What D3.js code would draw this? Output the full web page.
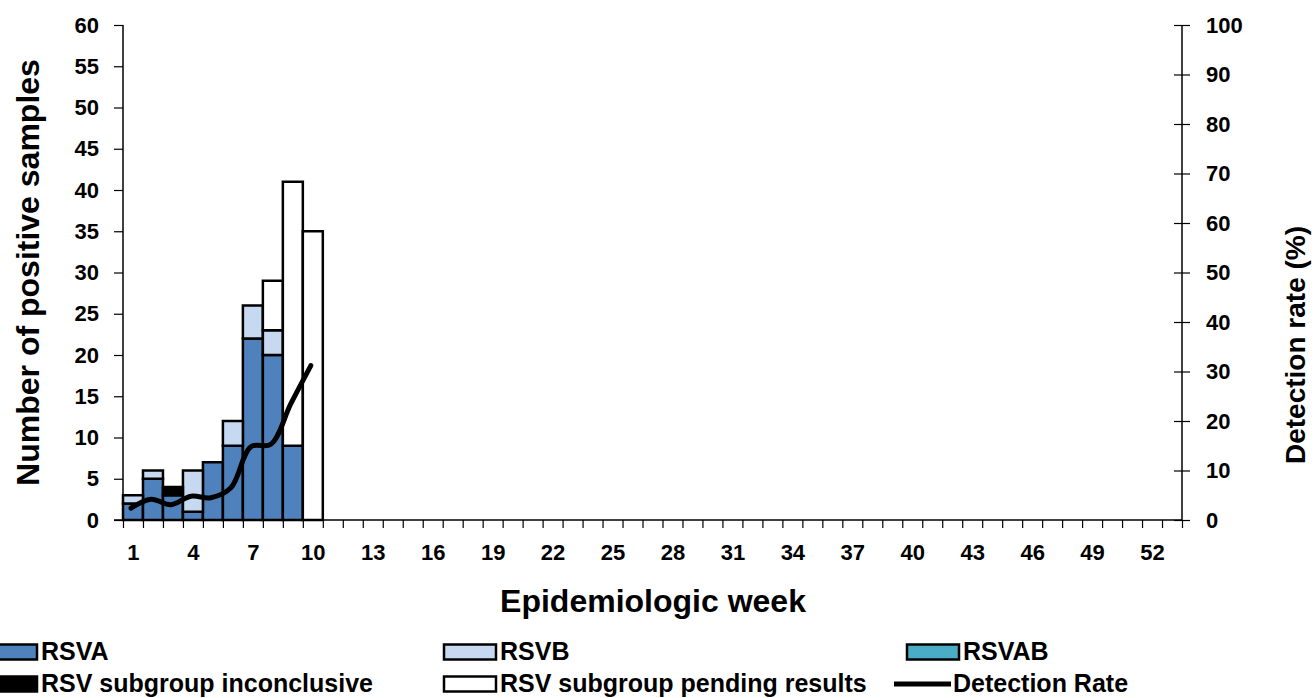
<!DOCTYPE html>
<html>
<head>
<meta charset="utf-8">
<script src="https://cdn.jsdelivr.net/npm/d3@7"></script>
<style>
  body { margin: 0; background: #fff; }
  svg text { font-family: "Liberation Sans", Arial, sans-serif; font-weight: bold; fill: #000; }
</style>
</head>
<body>
<svg id="chart"></svg>
<script>
// Data
const weeks = d3.range(1, 54);
const barWeeks = [1, 2, 3, 4, 5, 6, 7, 8, 9, 10];
const rsvA = [2, 5, 3, 1, 7, 9, 22, 20, 9, 0];
const rsvB = [1, 1, 0, 5, 0, 3, 4, 3, 0, 0];
const rsvAB = [0, 0, 0, 0, 0, 0, 0, 0, 0, 0];
const inconclusive = [0, 0, 1, 0, 0, 0, 0, 0, 0, 0];
const pending = [0, 0, 0, 0, 0, 0, 0, 6, 32, 35];
const detectionRate = [2.4, 4.2, 3.1, 4.8, 4.5, 6.5, 14.8, 15.3, 23.5, 31.2];
const leftTicks = d3.range(0, 61, 5);
const rightTicks = d3.range(0, 101, 10);
const weekLabels = d3.range(1, 53, 3);

const width = 1315, height = 698;
const margin = { top: 25, right: 133, bottom: 178, left: 123 };

const svg = d3.select('#chart')
  .attr('width', width)
  .attr('height', height);

const x = d3.scaleLinear()
  .domain([0.5, weeks.length + 0.5])
  .range([margin.left, width - margin.right]);

const y = d3.scaleLinear()
  .domain([0, 60])
  .range([height - margin.bottom, margin.top]);

const y2 = d3.scaleLinear()
  .domain([0, 100])
  .range([height - margin.bottom, margin.top]);

const series = [
  { key: 'RSVA', values: rsvA, color: '#4F81BD' },
  { key: 'RSVB', values: rsvB, color: '#C6D9F1' },
  { key: 'RSVAB', values: rsvAB, color: '#4BACC6' },
  { key: 'RSV subgroup inconclusive', values: inconclusive, color: '#000000' },
  { key: 'RSV subgroup pending results', values: pending, color: '#FFFFFF' }
];

// Build stack table
const table = barWeeks.map((w, i) => {
  const row = { week: w };
  series.forEach(s => { row[s.key] = s.values[i]; });
  return row;
});
const stacked = d3.stack().keys(series.map(s => s.key))(table);

// Bars
stacked.forEach((layer, li) => {
  svg.append('g')
    .selectAll('rect')
    .data(layer.filter(d => d[1] - d[0] > 0))
    .join('rect')
    .attr('x', d => x(d.data.week - 0.5))
    .attr('width', d => x(d.data.week + 0.5) - x(d.data.week - 0.5))
    .attr('y', d => y(d[1]))
    .attr('height', d => y(d[0]) - y(d[1]))
    .attr('fill', series[li].color)
    .attr('stroke', '#000')
    .attr('stroke-width', 2.5);
});

// X axis: ticks at week boundaries, labels every 3 weeks
const xAxis = svg.append('g')
  .attr('transform', `translate(0,${y(0)})`)
  .call(d3.axisBottom(x)
    .tickValues(d3.range(0.5, weeks.length + 1, 1))
    .tickSize(8)
    .tickFormat(''));
xAxis.select('.domain').remove();
xAxis.selectAll('line').attr('stroke', '#000').attr('stroke-width', 1.2);

svg.append('line')
  .attr('x1', margin.left - 9)
  .attr('x2', x(weeks.length + 0.5))
  .attr('y1', y(0))
  .attr('y2', y(0))
  .attr('stroke', '#000')
  .attr('stroke-width', 1.5);

svg.append('g')
  .attr('transform', `translate(0,${y(0)})`)
  .call(d3.axisBottom(x).tickValues(weekLabels).tickSize(0).tickPadding(24))
  .call(g => g.select('.domain').remove())
  .selectAll('text')
  .style('font-size', '22px');

// Left axis
const leftAxis = svg.append('g')
  .attr('transform', `translate(${margin.left},0)`)
  .call(d3.axisLeft(y).tickValues(leftTicks).tickSize(9).tickPadding(15));
leftAxis.select('.domain').attr('stroke', '#000').attr('stroke-width', 1.5)
  .attr('d', `M0,${y(0)}V${y(60)}`);
leftAxis.selectAll('line').attr('stroke', '#000').attr('stroke-width', 1.2);
leftAxis.selectAll('text').style('font-size', '22px');

// Right axis (ticks cross the line)
const rightAxis = svg.append('g')
  .attr('transform', `translate(${x(weeks.length + 0.5)},0)`)
  .call(d3.axisRight(y2).tickValues(rightTicks).tickSize(8).tickPadding(16));
rightAxis.select('.domain').attr('stroke', '#000').attr('stroke-width', 1.5)
  .attr('d', `M0,${y2(0)}V${y2(100)}`);
rightAxis.selectAll('line').attr('x1', -8).attr('stroke', '#000').attr('stroke-width', 1.2);
rightAxis.selectAll('text').style('font-size', '22px');

// Detection rate line
const line = d3.line()
  .x((d, i) => x(barWeeks[i]) - 2)
  .y(d => y2(d))
  .curve(d3.curveCatmullRom.alpha(0.5));

svg.append('path')
  .datum(detectionRate)
  .attr('d', line)
  .attr('fill', 'none')
  .attr('stroke', '#000')
  .attr('stroke-width', 5)
  .attr('stroke-linecap', 'round');

// Axis titles
svg.append('text')
  .attr('transform', `translate(39,${(y(0) + y(60)) / 2}) rotate(-90)`)
  .attr('text-anchor', 'middle')
  .style('font-size', '32px')
  .text('Number of positive samples');

svg.append('text')
  .attr('transform', `translate(1305,345) rotate(-90)`)
  .attr('text-anchor', 'middle')
  .style('font-size', '28px')
  .text('Detection rate (%)');

svg.append('text')
  .attr('x', 653)
  .attr('y', 612)
  .attr('text-anchor', 'middle')
  .style('font-size', '32px')
  .text('Epidemiologic week');

// Legend
const legendItems = [
  { label: 'RSVA', color: '#4F81BD', type: 'rect', x: -15, row: 0 },
  { label: 'RSVB', color: '#C6D9F1', type: 'rect', x: 444, row: 0 },
  { label: 'RSVAB', color: '#4BACC6', type: 'rect', x: 907, row: 0 },
  { label: 'RSV subgroup inconclusive', color: '#000000', type: 'rect', x: -15, row: 1 },
  { label: 'RSV subgroup pending results', color: '#FFFFFF', type: 'rect', x: 444, row: 1 },
  { label: 'Detection Rate', color: '#000000', type: 'line', x: 894, row: 1 }
];
const rowY = [652, 684];

const legend = svg.append('g');
legendItems.forEach(item => {
  const g = legend.append('g')
    .attr('transform', `translate(${item.x},${rowY[item.row]})`);
  if (item.type === 'rect') {
    g.append('rect')
      .attr('x', 0)
      .attr('y', -7.5)
      .attr('width', 52)
      .attr('height', 15)
      .attr('fill', item.color)
      .attr('stroke', '#000')
      .attr('stroke-width', 2.5);
  } else {
    g.append('line')
      .attr('x1', 0)
      .attr('x2', 57)
      .attr('y1', 0)
      .attr('y2', 0)
      .attr('stroke', '#000')
      .attr('stroke-width', 5);
  }
  g.append('text')
    .attr('x', item.type === 'rect' ? 56 : 59)
    .attr('y', 8)
    .style('font-size', '25px')
    .text(item.label);
});
</script>
</body>
</html>
